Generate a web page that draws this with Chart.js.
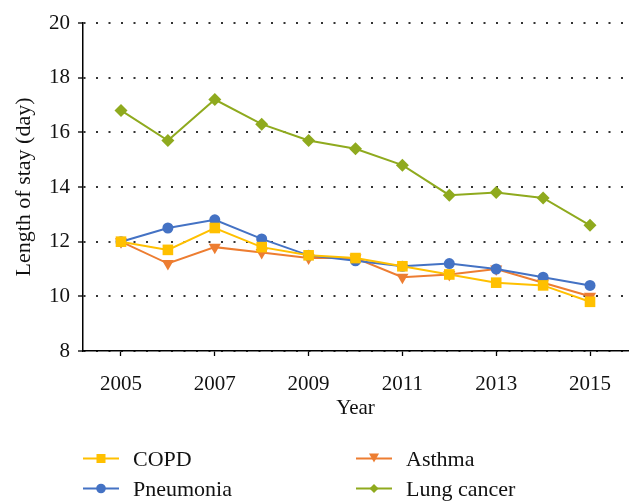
<!DOCTYPE html>
<html>
<head>
<meta charset="utf-8">
<script src="https://cdn.jsdelivr.net/npm/chart.js@4/dist/chart.umd.min.js"></script>
<style>
  html, body { margin: 0; padding: 0; background: #fff; }
  #wrap { position: relative; width: 643px; height: 504px; }
  #legend { position: absolute; left: 0; top: 0; width: 643px; height: 504px; pointer-events: none;
    font-family: "Liberation Serif", serif; font-size: 22px; color: #111; }
  .item { position: absolute; height: 26px; line-height: 26px; white-space: nowrap; }
  .item svg { position: absolute; left: 0; top: 5px; }
  .item span { position: absolute; left: 50px; }
</style>
</head>
<body>
<div id="wrap">
  <canvas id="chart" width="643" height="504"></canvas>
  <div id="legend"></div>
</div>
<script>
var years = [2005, 2006, 2007, 2008, 2009, 2010, 2011, 2012, 2013, 2014, 2015];
var yearTicks = [2005, 2007, 2009, 2011, 2013, 2015];

var copd = [12.0, 11.7, 12.5, 11.8, 11.5, 11.4, 11.1, 10.8, 10.5, 10.4, 9.8];
var asthma = [12.0, 11.2, 11.8, 11.6, 11.4, 11.4, 10.7, 10.8, 11.0, 10.5, 10.0];
var pneumonia = [12.0, 12.5, 12.8, 12.1, 11.5, 11.3, 11.1, 11.2, 11.0, 10.7, 10.4];
var lungCancer = [16.8, 15.7, 17.2, 16.3, 15.7, 15.4, 14.8, 13.7, 13.8, 13.6, 12.6];

var seriesNames = ["COPD", "Asthma", "Pneumonia", "Lung cancer"];
var seriesData = [copd, asthma, pneumonia, lungCancer];
var colors = ["#FFC000", "#ED7D31", "#4472C4", "#8FAA1E"];
var shapes = ["rect", "triangle", "circle", "rectRot"];
var radii = [7.5, 7, 5.5, 6.5];
var rotations = [0, 180, 0, 0];

function pts(vals) {
  return vals.map(function (v, i) { return { x: years[i], y: v }; });
}

var datasets = seriesData.map(function (vals, i) {
  return {
    label: seriesNames[i],
    data: pts(vals),
    borderColor: colors[i],
    backgroundColor: colors[i],
    borderWidth: 2,
    pointStyle: shapes[i],
    pointRadius: radii[i],
    pointRotation: rotations[i],
    pointBorderWidth: 0,
    tension: 0
  };
});
// draw order: copd on top, then pneumonia, asthma, lung cancer
datasets[0].order = 0;
datasets[2].order = 1;
datasets[1].order = 2;
datasets[3].order = 3;

var serif = "'Liberation Serif', serif";

var ctx = document.getElementById("chart");
var myChart = new Chart(ctx, {
  type: 'line',
  data: { datasets: datasets },
  options: {
    responsive: false,
    animation: false,
    events: [],
    layout: { padding: { left: 0, right: 15, top: 23, bottom: 83 } },
    plugins: {
      legend: { display: false },
      tooltip: { enabled: false }
    },
    scales: {
      x: {
        type: 'linear',
        min: 2004.19,
        max: 2015.81,
        afterBuildTicks: function (scale) {
          scale.ticks = yearTicks.map(function (y) { return { value: y }; });
        },
        afterFit: function (scale) { scale.height = 70; },
        grid: { drawOnChartArea: false, drawTicks: true, tickLength: 5, tickColor: '#000', tickWidth: 1.3 },
        border: { color: '#000', width: 1.5 },
        ticks: {
          color: '#111', padding: 16, maxRotation: 0, autoSkip: false,
          font: { family: serif, size: 21 },
          callback: function (v) { return String(v); }
        },
        title: { display: true, text: 'Year', color: '#111', padding: 0, font: { family: serif, size: 21 } }
      },
      y: {
        min: 8,
        max: 20,
        ticks: { stepSize: 2, color: '#111', padding: 8, font: { family: serif, size: 21 } },
        afterFit: function (scale) { scale.width = 83; },
        grid: {
          color: '#333', lineWidth: 2, drawTicks: true, tickLength: 5,
          tickColor: '#000', tickWidth: 1.3, tickBorderDash: []
        },
        border: { color: '#000', width: 1.5, dash: [2, 10.5] },
        title: { display: true, text: 'Length of stay (day)', color: '#111', padding: { top: 11, bottom: 0 }, font: { family: serif, size: 22 } }
      }
    }
  }
});

// legend in two columns, built from the series arrays
var legendPos = [
  { x: 83, y: 446 },   // COPD
  { x: 356, y: 446 },  // Asthma
  { x: 83, y: 476 },   // Pneumonia
  { x: 356, y: 476 }   // Lung cancer
];

function markerSvg(i) {
  var c = colors[i];
  var m = '';
  if (shapes[i] === 'rect') m = '<rect x="13.5" y="3" width="9" height="9" fill="' + c + '"/>';
  else if (shapes[i] === 'circle') m = '<circle cx="18" cy="7.5" r="4.8" fill="' + c + '"/>';
  else if (shapes[i] === 'triangle') m = '<polygon points="13,2.5 23,2.5 18,11.5" fill="' + c + '"/>';
  else m = '<polygon points="18,3 22.5,7.5 18,12 13.5,7.5" fill="' + c + '"/>';
  return '<svg width="36" height="15"><line x1="0" y1="7.5" x2="36" y2="7.5" stroke="' + c + '" stroke-width="2"/>' + m + '</svg>';
}

var legendEl = document.getElementById("legend");
seriesNames.forEach(function (name, i) {
  var d = document.createElement("div");
  d.className = "item";
  d.style.left = legendPos[i].x + "px";
  d.style.top = legendPos[i].y + "px";
  d.innerHTML = markerSvg(i) + '<span>' + name + '</span>';
  legendEl.appendChild(d);
});
</script>
</body>
</html>
